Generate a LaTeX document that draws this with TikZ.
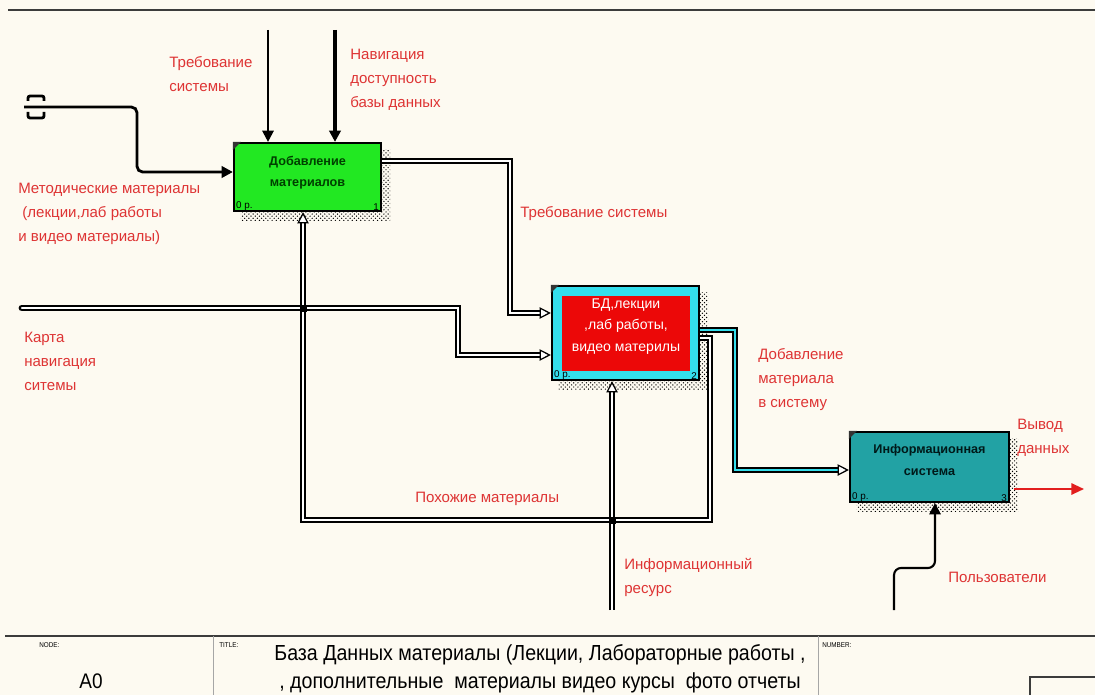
\documentclass[tikz,border=0pt]{standalone}
\usepackage{fontspec}
\setmainfont{Liberation Sans}
\newfontfamily\narrowfont[FakeStretch=0.9]{Liberation Sans}
\usetikzlibrary{arrows.meta,patterns,calc}

\definecolor{paper}{RGB}{253,250,241}
\definecolor{lblred}{RGB}{222,52,52}
\definecolor{boxgreen}{RGB}{34,232,34}
\definecolor{boxcyan}{RGB}{52,222,236}
\definecolor{boxred}{RGB}{236,8,8}
\definecolor{boxteal}{RGB}{34,162,164}
\definecolor{outred}{RGB}{226,30,30}
\definecolor{framegray}{RGB}{60,60,60}

\pgfdeclarelayer{paperlayer}
\pgfdeclarelayer{shadelayer}
\pgfsetlayers{paperlayer,shadelayer,main}

\tikzset{
  func/.style={draw=black, line width=1.5pt, inner sep=0pt, align=center},
  nlab/.style={font=\fontsize{7}{8}\selectfont, inner sep=0pt},
  lbl/.style={text=lblred, font=\fontsize{10.7}{17}\selectfont, align=left,
    anchor=north west, inner sep=0pt},
  ctrl/.style={draw=black, line width=1.5pt, -{Triangle[length=8pt,width=8pt]}},
  tunnel/.style={draw=black, line width=1.6pt, double=white, double distance=1.7pt},
  tarrow/.style={-{Triangle[open, fill=white, length=8pt, width=8pt, line width=0.9pt]}},
  formlbl/.style={font=\narrowfont\fontsize{5}{6}\selectfont, inner sep=0pt, anchor=north west}
}

\begin{document}
\begin{tikzpicture}[x=0.025cm, y=-0.025cm]

% Paper
\begin{pgfonlayer}{paperlayer}
\fill[paper] (0,0) rectangle (1095,695);
\end{pgfonlayer}
\useasboundingbox (0,0) rectangle (1095,695);

% Frame lines
\draw[framegray, line width=2pt] (8,10) -- (1095,10);
\draw[framegray, line width=1.5pt] (5,636) -- (1095,636);
\draw[gray!70, line width=0.6pt] (213,636) -- (213,695);
\draw[gray!70, line width=0.6pt] (818,636) -- (818,695);
\draw[framegray, line width=0.8pt] (1030,695) -- (1030,677) -- (1095,677);

% Form fields
\node[formlbl] (fnode) at (39,642) {NODE:};
\node[formlbl] (ftitle) at (219,642) {TITLE:};
\node[formlbl] (fnumber) at (822,642) {NUMBER:};
\node[font=\narrowfont\fontsize{15}{20}\selectfont] (fa0) at (91,681) {A0};
\node[font=\narrowfont\fontsize{15.5}{20}\selectfont, align=center] (ftext) at (540,669)
  {База Данных материалы (Лекции, Лабораторные работы ,\\
   , дополнительные\ \ материалы видео курсы\ \ фото отчеты};

% Function boxes
\node[func, fill=boxgreen, minimum width=3.675cm, minimum height=1.7cm, text depth=8pt,
  font=\bfseries\fontsize{9}{15.5}\selectfont, text=black!75!green] (b1) at (307.5,177)
  {Добавление\\материалов};
\node[func, fill=boxcyan, minimum width=3.675cm, minimum height=2.35cm] (b2) at (625.5,333) {};
\node[fill=boxred, inner sep=0pt, minimum width=3.2cm, minimum height=1.875cm, text depth=12pt,
  align=center, text=white, font=\fontsize{10}{15.5}\selectfont] (b2in) at (626,333.5)
  {БД,лекции\\,лаб работы,\\видео материлы};
\node[func, fill=boxteal, minimum width=3.975cm, minimum height=1.75cm, text depth=10.5pt,
  font=\bfseries\fontsize{9}{15.5}\selectfont, text=black!80!teal] (b3) at (929.5,467)
  {Информационная\\система};

% Shadows under the boxes
\begin{pgfonlayer}{shadelayer}
\foreach \b in {b1,b2,b3}
  \fill[pattern=crosshatch dots, pattern color=black]
    ($(\b.north west)+(8,8)$) rectangle ($(\b.south east)+(8,8)$);
\end{pgfonlayer}

% Corner marks and numbers
\foreach \b/\n in {b1/1,b2/2,b3/3} {
  \fill[black!80] (\b.north west) -- ++(8,0) -- ++(-8,8) -- cycle;
  \node[nlab, anchor=south west] at ($(\b.south west)+(3,-1)$) {0 р.};
  \node[nlab, anchor=south east] at ($(\b.south east)+(-3,-1)$) {\n};
}

% Controls of box 1
\coordinate (c1) at (268,30);
\coordinate (c2) at (335,30);
\draw[ctrl] (c1) -- (b1.north -| c1);
\draw[ctrl, line width=2.3pt] (c2) -- (b1.north -| c2);

% Input of box 1 from the tunnel
\draw[line width=2pt, rounded corners=1.5pt] (28,101) -- (28,96) -- (44,96) -- (44,101);
\draw[line width=2pt, rounded corners=1.5pt] (28,112) -- (28,118) -- (44,118) -- (44,112);
\draw[ctrl, line width=2pt, rounded corners=4pt] (24,107) -- (137,107) -- (137,172) -- (b1.west |- 0,172);

% Box 1 -> box 2
\draw[tunnel, tarrow] (b1.east |- 0,161) -- (510,161) -- (510,313) -- (b2.west |- 0,313);
\draw[tunnel, tarrow, line cap=round] (22,308) -- (458,308) -- (458,355) -- (b2.west |- 0,355);

% Feedback to box 1
\draw[tunnel, tarrow] (b2.east |- 0,338) -- (710,338) -- (710,520) -- (303,520) -- (b1.south -| 303,0);
\draw[tunnel, tarrow] (612,610) -- (b2.south -| 612,0);

% Box 2 -> box 3
\draw[tunnel, double=boxcyan, tarrow] (b2.east |- 0,330) -- (735,330) -- (735,470) -- (b3.west |- 0,470);

% Crossings
\fill (303,308) ++(-3.5,-3.5) rectangle ++(7,7);
\fill (612,520) ++(-3.5,-3.5) rectangle ++(7,7);

% Output and mechanism of box 3
\draw[draw=outred, line width=1.5pt, -{Triangle[length=9pt,width=8pt]}] ($(b3.east |- 0,489)+(4,0)$) -- (1084,489);
\draw[ctrl, rounded corners=5pt] (894,610) -- (894,568) -- (935,568) -- (b3.south -| 935,0);

% Labels
\node[lbl] (lreq) at (169,56) {Требование\\системы};
\node[lbl] (lnav) at (350,49) {Навигация\\доступность\\базы данных};
\node[lbl] (lmet) at (18,183) {Методические материалы\\\ (лекции,лаб работы\\и видео материалы)};
\node[lbl] (lreq2) at (520,206) {Требование системы};
\node[lbl] (lmap) at (24,332) {Карта\\навигация\\ситемы};
\node[lbl] (ladd) at (758,348) {Добавление\\материала\\в систему};
\node[lbl] (lout) at (1017,419) {Вывод\\данных};
\node[lbl] (lsim) at (415,492) {Похожие материалы};
\node[lbl] (lres) at (624,558) {Информационный\\ресурс};
\node[lbl] (lusr) at (948,572) {Пользователи};

\end{tikzpicture}
\end{document}
